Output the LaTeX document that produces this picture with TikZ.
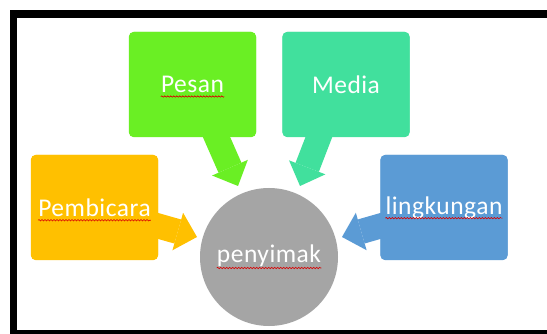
\documentclass[tikz,border=0pt]{standalone}
\usepackage{fontspec}
\setmainfont{Carlito}[LetterSpace=2]
\usetikzlibrary{arrows.meta,decorations.pathmorphing,calc}
\definecolor{cPes}{HTML}{6AEF24}
\definecolor{cMed}{HTML}{41E09D}
\definecolor{cPem}{HTML}{FFC000}
\definecolor{cLin}{HTML}{5B9BD5}
\definecolor{cPen}{HTML}{A5A5A5}
\begin{document}
\begin{tikzpicture}[x=1pt,y=-1pt,
  box/.style={rounded corners=5pt, minimum width=127pt, minimum height=105pt, inner sep=0pt, draw=none},
  lbl/.style={text=white, font=\fontsize{25.5}{30}\selectfont, inner sep=0pt},
  wavy/.style={draw=red!85!black, line width=0.6pt, decorate, decoration={snake, segment length=3pt, amplitude=0.7pt}},
  blk/.style={line width=25pt, -{Triangle[width=39pt,length=20pt,line width=0pt]}}]
\useasboundingbox (0,0) rectangle (547,334);
\fill[black] (10,10) rectangle (547,334);
\fill[white] (17,18) rectangle (547,330);
% named nodes (shapes)
\node[box, fill=cPes] (pesan) at (192.5,84.5) {};
\node[box, fill=cMed] (media) at (346,84.5) {};
\node[box, fill=cPem] (pembicara) at (94.5,207.5) {};
\node[box, fill=cLin] (lingkungan) at (444,207.5) {};
\node[circle, fill=cPen, minimum size=138pt, inner sep=0pt] (penyimak) at (269,257) {};
% arrow tips
\coordinate (tPes) at (238,186);
\coordinate (tMed) at (300,186);
\coordinate (tPem) at (197,237);
\coordinate (tLin) at (342,237);
% block arrows
\draw[blk, draw=cPes, fill=cPes] ($(pesan.south)+(21,-7)$) -- (tPes);
\draw[blk, draw=cMed, fill=cMed] ($(media.south)+(-24.5,-7)$) -- (tMed);
\draw[blk, draw=cPem, fill=cPem] ($(pembicara.east)+(-8,16.2)$) -- (tPem);
\draw[blk, draw=cLin, fill=cLin] ($(lingkungan.west)+(8,16.2)$) -- (tLin);
% redraw boxes on top of arrow starts
\fill[cPes, rounded corners=5pt] (pesan.south west) rectangle (pesan.north east);
\fill[cMed, rounded corners=5pt] (media.south west) rectangle (media.north east);
\fill[cPem, rounded corners=5pt] (pembicara.south west) rectangle (pembicara.north east);
\fill[cLin, rounded corners=5pt] (lingkungan.south west) rectangle (lingkungan.north east);
% labels
\node[lbl] (pesanT) at (pesan.center) {Pesan};
\node[lbl] (mediaT) at (media.center) {Media};
\node[lbl] (pembicaraT) at (pembicara.center) {Pembicara};
\node[lbl] (lingkunganT) at (lingkungan.center) {lingkungan};
\node[lbl, anchor=base] (penyimakT) at ($(penyimak.center)+(0,6)$) {penyimak};
% spelling underlines
\draw[wavy] ([yshift=-4pt]pesanT.base west) -- ([yshift=-4pt]pesanT.base east);
\draw[wavy] ([yshift=-4pt]pembicaraT.base west) -- ([yshift=-4pt]pembicaraT.base east);
\draw[wavy] ([yshift=-4pt]lingkunganT.base west) -- ([yshift=-4pt]lingkunganT.base east);
\draw[wavy] ([yshift=-5pt]penyimakT.base west) -- ([yshift=-5pt]penyimakT.base east);
\end{tikzpicture}
\end{document}
